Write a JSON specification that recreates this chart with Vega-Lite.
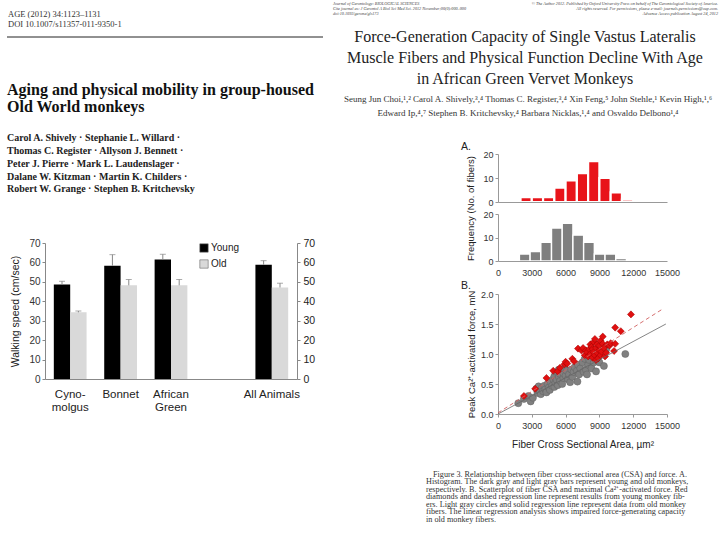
{
  "$schema": "https://vega.github.io/schema/vega-lite/v6.json",
  "background": "white",
  "padding": 0,
  "autosize": {"type": "pad"},
  "bounds": "full",
  "spacing": 0,
  "config": {
    "view": {"stroke": null},
    "axis": {"grid": false, "labelFont": "Liberation Sans", "titleFont": "Liberation Sans", "labelColor": "#333", "titleColor": "#222", "titleFontWeight": "normal", "domainColor": "#999", "tickColor": "#999", "tickSize": 3, "labelFlush": false, "labelOverlap": false, "labelBound": false}
  },
  "hconcat": [
    {
      "spacing": 0,
      "bounds": "flush",
      "vconcat": [
        {
          "width": 325, "height": 37,
          "layer": [
            {
              "data": {"values": [{"i": 0, "t": "AGE (2012) 34:1123–1131"}, {"i": 1, "t": "DOI 10.1007/s11357-011-9350-1"}]},
              "mark": {"type": "text", "align": "left", "baseline": "middle", "font": "Liberation Serif", "fontSize": 8.5, "color": "#333"},
              "encoding": {"x": {"value": 8}, "y": {"field": "i", "type": "quantitative", "scale": {"domain": [-1.4, 2.3], "reverse": true, "nice": false}, "axis": null}, "text": {"field": "t"}}
            },
            {
              "data": {"values": [{"i": 2.3}]},
              "mark": {"type": "rule", "color": "#222", "strokeWidth": 1},
              "encoding": {"x": {"value": 7}, "x2": {"value": 323}, "y": {"field": "i", "type": "quantitative"}}
            }
          ]
        },
        {
          "width": 325, "height": 88,
          "data": {"values": [{"i": 0, "t": "Aging and physical mobility in group-housed"}, {"i": 1, "t": "Old World monkeys"}]},
          "mark": {"type": "text", "align": "left", "baseline": "middle", "font": "Liberation Serif", "fontWeight": "bold", "fontSize": 16, "color": "#111"},
          "encoding": {"x": {"value": 7}, "y": {"field": "i", "type": "quantitative", "scale": {"domain": [-3.118, 2.059], "reverse": true, "nice": false}, "axis": null}, "text": {"field": "t"}}
        },
        {
          "width": 325, "height": 118,
          "data": {"values": [
            {"i": 0, "t": "Carol A. Shively · Stephanie L. Willard ·"},
            {"i": 1, "t": "Thomas C. Register · Allyson J. Bennett ·"},
            {"i": 2, "t": "Peter J. Pierre · Mark L. Laudenslager ·"},
            {"i": 3, "t": "Dalane W. Kitzman · Martin K. Childers ·"},
            {"i": 4, "t": "Robert W. Grange · Stephen B. Kritchevsky"}
          ]},
          "mark": {"type": "text", "align": "left", "baseline": "middle", "font": "Liberation Serif", "fontWeight": "bold", "fontSize": 10, "color": "#222"},
          "encoding": {"x": {"value": 7}, "y": {"field": "i", "type": "quantitative", "scale": {"domain": [-1.043, 8.212], "reverse": true, "nice": false}, "axis": null}, "text": {"field": "t"}}
        },
        {
          "spacing": 0,
          "bounds": "flush",
          "hconcat": [
            {"width": 45, "height": 10, "data": {"values": []}, "mark": "text"},
            {
              "width": 252, "height": 136,
              "data": {"values": [
                {"group": "Cyno-molgus", "age": "Young", "value": 48.6, "upper": 50.3},
                {"group": "Cyno-molgus", "age": "Old", "value": 34.3, "upper": 35.0},
                {"group": "Bonnet", "age": "Young", "value": 58.3, "upper": 64.0},
                {"group": "Bonnet", "age": "Old", "value": 48.2, "upper": 51.2},
                {"group": "African Green", "age": "Young", "value": 61.5, "upper": 64.2},
                {"group": "African Green", "age": "Old", "value": 48.2, "upper": 51.2},
                {"group": "All Animals", "age": "Young", "value": 58.8, "upper": 60.9},
                {"group": "All Animals", "age": "Old", "value": 47.1, "upper": 49.3}
              ]},
              "encoding": {
                "x": {"field": "group", "type": "nominal", "scale": {"domain": ["Cyno-molgus", "Bonnet", "African Green", " ", "All Animals"], "paddingInner": 0.35, "paddingOuter": 0.175},
                  "axis": {"title": null, "ticks": false, "labelAngle": 0, "labelFontSize": 11.5, "labelColor": "#222", "labelPadding": 9, "labelLineHeight": 13, "domainColor": "#888",
                    "labelExpr": "datum.value == 'Cyno-molgus' ? ['Cyno-', 'molgus'] : datum.value == 'African Green' ? ['African', 'Green'] : datum.value"}},
                "xOffset": {"field": "age", "type": "nominal", "scale": {"domain": ["Young", "Old"]}}
              },
              "layer": [
                {
                  "mark": {"type": "bar"},
                  "encoding": {
                    "y": {"field": "value", "type": "quantitative", "scale": {"domain": [0, 70], "nice": false},
                      "axis": {"orient": "left", "values": [0, 10, 20, 30, 40, 50, 60, 70], "tickCount": 20, "title": "Walking speed (cm/sec)", "titleFontSize": 10.5, "titlePadding": 8, "labelFontSize": 10, "labelColor": "#333", "domainColor": "#888", "tickColor": "#888", "tickSize": 3, "labelPadding": 2, "labelOverlap": false}},
                    "color": {"field": "age", "type": "nominal", "scale": {"domain": ["Young", "Old"], "range": ["#000000", "#d9d9d9"]},
                      "legend": {"title": null, "orient": "none", "legendX": 199, "legendY": 243, "padding": 0, "symbolType": "square", "symbolSize": 70, "labelFontSize": 10, "labelFont": "Liberation Sans", "labelColor": "#222", "symbolStrokeColor": "#666", "symbolStrokeWidth": 0.6, "rowPadding": 4, "labelOffset": 2}}
                  }
                },
                {
                  "mark": {"type": "rule", "color": "#888"},
                  "encoding": {"y": {"field": "value", "type": "quantitative", "axis": null}, "y2": {"field": "upper"}}
                },
                {
                  "mark": {"type": "tick", "color": "#888", "thickness": 1, "size": 6},
                  "encoding": {"y": {"field": "upper", "type": "quantitative", "axis": null}}
                },
                {
                  "mark": {"type": "point", "opacity": 0},
                  "encoding": {"y": {"field": "value", "type": "quantitative", "axis": {"orient": "right", "values": [0, 10, 20, 30, 40, 50, 60, 70], "tickCount": 20, "title": null, "labelFontSize": 10.5, "labelColor": "#222", "domainColor": "#888", "tickColor": "#888", "tickSize": 3, "labelPadding": 3, "labelOverlap": false}}}
                }
              ],
              "resolve": {"axis": {"y": "independent"}}
            }
          ]
        }
      ]
    },
    {
      "spacing": 0,
      "bounds": "flush",
      "vconcat": [
        {
          "width": 395, "height": 20,
          "layer": [
            {
              "data": {"values": [
                {"i": 0, "t": "Journal of Gerontology: BIOLOGICAL SCIENCES"},
                {"i": 1, "t": "Cite journal as: J Gerontol A Biol Sci Med Sci. 2012 November;00(0):000–000"},
                {"i": 2, "t": "doi:10.1093/gerona/gls173"}
              ]},
              "mark": {"type": "text", "align": "left", "baseline": "middle", "font": "Liberation Serif", "fontStyle": "italic", "fontSize": 4.2, "color": "#444"},
              "encoding": {"x": {"value": 8}, "y": {"field": "i", "type": "quantitative", "scale": {"domain": [-0.86, 3.14], "reverse": true, "nice": false}, "axis": null}, "text": {"field": "t"}}
            },
            {
              "data": {"values": [
                {"i": 0, "t": "© The Author 2012. Published by Oxford University Press on behalf of The Gerontological Society of America."},
                {"i": 1, "t": "All rights reserved. For permissions, please e-mail: journals.permissions@oup.com."},
                {"i": 2, "t": "Advance Access publication August 24, 2012"}
              ]},
              "mark": {"type": "text", "align": "right", "baseline": "middle", "font": "Liberation Serif", "fontStyle": "italic", "fontSize": 4.2, "color": "#444"},
              "encoding": {"x": {"value": 393}, "y": {"field": "i", "type": "quantitative"}, "text": {"field": "t"}}
            }
          ]
        },
        {
          "width": 395, "height": 70,
          "data": {"values": [
            {"i": 0, "t": "Force-Generation Capacity of Single Vastus Lateralis"},
            {"i": 1, "t": "Muscle Fibers and Physical Function Decline With Age"},
            {"i": 2, "t": "in African Green Vervet Monkeys"}
          ]},
          "mark": {"type": "text", "align": "center", "baseline": "middle", "font": "Liberation Serif", "fontSize": 16, "color": "#222"},
          "encoding": {"x": {"value": 200}, "y": {"field": "i", "type": "quantitative", "scale": {"domain": [-0.799, 2.55], "reverse": true, "nice": false}, "axis": null}, "text": {"field": "t"}}
        },
        {
          "width": 395, "height": 64,
          "data": {"values": [
            {"i": 0, "t": "Seung Jun Choi,¹,² Carol A. Shively,³,⁴ Thomas C. Register,³,⁴ Xin Feng,⁵ John Stehle,¹ Kevin High,¹,⁶"},
            {"i": 1, "t": "Edward Ip,⁴,⁷ Stephen B. Kritchevsky,⁴ Barbara Nicklas,¹,⁴ and Osvaldo Delbono¹,⁴"}
          ]},
          "mark": {"type": "text", "align": "center", "baseline": "middle", "font": "Liberation Serif", "fontSize": 9, "color": "#333"},
          "encoding": {"x": {"value": 203}, "y": {"field": "i", "type": "quantitative", "scale": {"domain": [-0.694, 4.082], "reverse": true, "nice": false}, "axis": null}, "text": {"field": "t"}}
        },
        {
          "spacing": 0,
          "bounds": "flush",
          "hconcat": [
            {"width": 173, "height": 10, "data": {"values": []}, "mark": "text"},
            {
              "spacing": 0,
              "bounds": "flush",
              "vconcat": [
                {
                  "width": 169, "height": 48,
                  "title": {"text": "A.", "anchor": "start", "frame": "group", "dx": -37, "offset": -2.5, "fontSize": 10.5, "fontWeight": "normal", "font": "Liberation Sans", "color": "#222"},
                  "data": {"values": [
                    {"b0": 2000, "b1": 3000, "n": 2}, {"b0": 3000, "b1": 4000, "n": 2}, {"b0": 4000, "b1": 5000, "n": 2},
                    {"b0": 5000, "b1": 6000, "n": 6}, {"b0": 6000, "b1": 7000, "n": 9}, {"b0": 7000, "b1": 8000, "n": 12},
                    {"b0": 8000, "b1": 9000, "n": 17}, {"b0": 9000, "b1": 10000, "n": 10}, {"b0": 10000, "b1": 11000, "n": 4},
                    {"b0": 11000, "b1": 12000, "n": 1}
                  ]},
                  "mark": {"type": "bar", "color": "#e8141a", "stroke": "white", "strokeWidth": 2.2},
                  "encoding": {
                    "x": {"field": "b0", "type": "quantitative", "scale": {"domain": [0, 15000], "nice": false, "zero": false}, "axis": {"labels": false, "ticks": false, "title": null, "zindex": 1, "values": [0, 3000, 6000, 9000, 12000, 15000], "tickCount": 20}},
                    "x2": {"field": "b1"},
                    "y": {"field": "n", "type": "quantitative", "scale": {"domain": [0, 20], "nice": false}, "axis": {"values": [0, 10, 20], "tickCount": 20, "title": null, "labelFontSize": 9, "labelOverlap": false}},
                    "y2": {"datum": 0}
                  }
                },
                {"width": 1, "height": 12, "data": {"values": []}, "mark": "text"},
                {
                  "width": 169, "height": 47,
                  "data": {"values": [
                    {"b0": 1900, "b1": 2850, "n": 3}, {"b0": 2850, "b1": 3800, "n": 4}, {"b0": 3800, "b1": 4750, "n": 8},
                    {"b0": 4750, "b1": 5700, "n": 14}, {"b0": 5700, "b1": 6650, "n": 16}, {"b0": 6650, "b1": 7600, "n": 11},
                    {"b0": 7600, "b1": 8550, "n": 8}, {"b0": 8550, "b1": 9500, "n": 3}, {"b0": 9500, "b1": 10450, "n": 3},
                    {"b0": 10450, "b1": 11400, "n": 1}
                  ]},
                  "mark": {"type": "bar", "color": "#7f7f7f", "stroke": "white", "strokeWidth": 1.4},
                  "encoding": {
                    "x": {"field": "b0", "type": "quantitative", "scale": {"domain": [0, 15000], "nice": false, "zero": false}, "axis": {"title": null, "zindex": 1, "values": [0, 3000, 6000, 9000, 12000, 15000], "tickCount": 20, "format": "d", "labelFontSize": 9, "labelPadding": 7, "ticks": false, "labelOverlap": false, "labelFlush": false, "labelBound": false}},
                    "x2": {"field": "b1"},
                    "y": {"field": "n", "type": "quantitative", "scale": {"domain": [0, 20], "nice": false}, "axis": {"values": [0, 10, 20], "tickCount": 20, "title": "Frequency (No. of fibers)", "titleFontSize": 9.5, "titleX": -28, "titleY": -6, "titleAlign": "center", "titleBaseline": "middle", "labelFontSize": 9, "labelOverlap": false}},
                    "y2": {"datum": 0}
                  }
                },
                {"width": 1, "height": 33, "data": {"values": []}, "mark": "text"},
                {
                  "width": 169, "height": 120,
                  "title": {"text": "B.", "anchor": "start", "frame": "group", "dx": -37, "offset": -1, "fontSize": 10.5, "fontWeight": "normal", "font": "Liberation Sans", "color": "#222"},
                  "encoding": {
                    "x": {"field": "csa", "type": "quantitative", "scale": {"domain": [0, 15000], "nice": false}, "axis": {"values": [0, 3000, 6000, 9000, 12000, 15000], "tickCount": 20, "format": "d", "title": "Fiber Cross Sectional Area, µm²", "titleFontSize": 10, "titlePadding": 9, "labelFontSize": 9, "labelPadding": 4, "labelOverlap": false, "labelFlush": false, "labelBound": false}},
                    "y": {"field": "force", "type": "quantitative", "scale": {"domain": [0, 2], "nice": false}, "axis": {"values": [0, 0.5, 1, 1.5, 2], "tickCount": 20, "format": ".1f", "title": "Peak Ca²⁺-activated force, mN", "titleFontSize": 9.5, "titlePadding": 4, "labelFontSize": 9, "labelOverlap": false, "labelBound": false}}
                  },
                  "layer": [
                    {
                      "data": {"values": [
                        {"csa": 1800, "force": 0.18}, {"csa": 2300, "force": 0.25}, {"csa": 2700, "force": 0.30}, {"csa": 2900, "force": 0.21},
                        {"csa": 3100, "force": 0.27}, {"csa": 3400, "force": 0.42}, {"csa": 3500, "force": 0.35}, {"csa": 3600, "force": 0.46},
                        {"csa": 3700, "force": 0.39}, {"csa": 3800, "force": 0.33}, {"csa": 3900, "force": 0.44}, {"csa": 4000, "force": 0.38},
                        {"csa": 4100, "force": 0.47}, {"csa": 4200, "force": 0.41}, {"csa": 4300, "force": 0.36}, {"csa": 4400, "force": 0.50},
                        {"csa": 4500, "force": 0.44}, {"csa": 4600, "force": 0.40}, {"csa": 4700, "force": 0.53}, {"csa": 4800, "force": 0.47},
                        {"csa": 4900, "force": 0.58}, {"csa": 5000, "force": 0.45}, {"csa": 5000, "force": 0.63}, {"csa": 5100, "force": 0.52},
                        {"csa": 5200, "force": 0.70}, {"csa": 5200, "force": 0.57}, {"csa": 5300, "force": 0.48}, {"csa": 5400, "force": 0.74},
                        {"csa": 5400, "force": 0.62}, {"csa": 5500, "force": 0.67}, {"csa": 5500, "force": 0.55}, {"csa": 5600, "force": 0.72},
                        {"csa": 5700, "force": 0.50}, {"csa": 5800, "force": 0.60}, {"csa": 5800, "force": 0.68}, {"csa": 5900, "force": 0.76},
                        {"csa": 6000, "force": 0.64}, {"csa": 6100, "force": 0.72}, {"csa": 6200, "force": 0.58}, {"csa": 6300, "force": 0.66},
                        {"csa": 6400, "force": 0.53}, {"csa": 6500, "force": 0.74}, {"csa": 6600, "force": 0.62}, {"csa": 6700, "force": 0.70},
                        {"csa": 6800, "force": 0.78}, {"csa": 7000, "force": 0.72}, {"csa": 7050, "force": 0.54}, {"csa": 7100, "force": 0.82},
                        {"csa": 7200, "force": 0.66}, {"csa": 7300, "force": 0.76}, {"csa": 7500, "force": 0.86}, {"csa": 7600, "force": 0.70},
                        {"csa": 7700, "force": 0.92}, {"csa": 7800, "force": 0.74}, {"csa": 7900, "force": 0.66}, {"csa": 8000, "force": 0.82},
                        {"csa": 8100, "force": 0.90}, {"csa": 8300, "force": 0.76}, {"csa": 8500, "force": 0.86}, {"csa": 8700, "force": 0.71},
                        {"csa": 8800, "force": 0.94}, {"csa": 9000, "force": 0.86}, {"csa": 9200, "force": 1.06}, {"csa": 9400, "force": 0.80},
                        {"csa": 9600, "force": 1.08}, {"csa": 11300, "force": 1.00}
                      ]},
                      "mark": {"type": "point", "shape": "circle", "filled": true, "size": 50, "color": "#808080", "stroke": "#606060", "strokeWidth": 0.5, "opacity": 1}
                    },
                    {
                      "data": {"values": [
                        {"csa": 2300, "force": 0.30}, {"csa": 3300, "force": 0.42}, {"csa": 4300, "force": 0.60}, {"csa": 4900, "force": 0.72},
                        {"csa": 5300, "force": 0.71}, {"csa": 5500, "force": 0.77}, {"csa": 5900, "force": 0.83}, {"csa": 6000, "force": 0.87},
                        {"csa": 6150, "force": 0.84}, {"csa": 6600, "force": 0.92}, {"csa": 6750, "force": 0.88}, {"csa": 7100, "force": 1.09},
                        {"csa": 7400, "force": 1.06}, {"csa": 7550, "force": 1.10}, {"csa": 7700, "force": 0.98}, {"csa": 7800, "force": 1.06},
                        {"csa": 7900, "force": 1.03}, {"csa": 8000, "force": 0.96}, {"csa": 8100, "force": 1.08}, {"csa": 8200, "force": 1.00},
                        {"csa": 8200, "force": 1.16}, {"csa": 8300, "force": 1.12}, {"csa": 8400, "force": 0.94}, {"csa": 8400, "force": 1.08},
                        {"csa": 8500, "force": 1.20}, {"csa": 8500, "force": 1.03}, {"csa": 8600, "force": 1.25}, {"csa": 8600, "force": 0.98},
                        {"csa": 8700, "force": 1.10}, {"csa": 8700, "force": 0.90}, {"csa": 8800, "force": 1.02}, {"csa": 8800, "force": 1.16},
                        {"csa": 8900, "force": 0.93}, {"csa": 9000, "force": 1.06}, {"csa": 9000, "force": 1.14}, {"csa": 9100, "force": 0.98},
                        {"csa": 9100, "force": 1.22}, {"csa": 9200, "force": 1.04}, {"csa": 9300, "force": 1.29}, {"csa": 9300, "force": 1.17},
                        {"csa": 9400, "force": 1.10}, {"csa": 9500, "force": 0.96}, {"csa": 9600, "force": 1.02}, {"csa": 9700, "force": 1.16},
                        {"csa": 9900, "force": 1.14}, {"csa": 10000, "force": 1.18}, {"csa": 10300, "force": 1.05}, {"csa": 10400, "force": 1.17},
                        {"csa": 10400, "force": 1.44}, {"csa": 10900, "force": 1.38}, {"csa": 11800, "force": 1.66}
                      ]},
                      "mark": {"type": "point", "shape": "diamond", "filled": true, "size": 50, "color": "#e01010", "stroke": "#a00000", "strokeWidth": 0.5, "opacity": 1}
                    },
                    {
                      "data": {"values": [{"csa": 0, "force": 0.02}, {"csa": 14700, "force": 1.76}]},
                      "mark": {"type": "line", "color": "#d06060", "strokeDash": [4, 3], "strokeWidth": 0.9}
                    },
                    {
                      "data": {"values": [{"csa": 0, "force": 0}, {"csa": 14900, "force": 1.5}]},
                      "mark": {"type": "line", "color": "#666666", "strokeWidth": 0.8}
                    }
                  ]
                },
                {
                  "width": 169, "height": 126,
                  "layer": [
                    {
                      "data": {"values": [{"i": 0, "t": "Figure 3.  Relationship between fiber cross-sectional area (CSA) and force. A."}]},
                      "mark": {"type": "text", "align": "left", "baseline": "middle", "font": "Liberation Serif", "fontSize": 8.2, "color": "#333"},
                      "encoding": {"x": {"value": -65}, "y": {"field": "i", "type": "quantitative", "scale": {"domain": [-8.133, 8.667], "reverse": true, "nice": false}, "axis": null}, "text": {"field": "t"}}
                    },
                    {
                      "data": {"values": [
                        {"i": 1, "t": "Histogram. The dark gray and light gray bars represent young and old monkeys,"},
                        {"i": 2, "t": "respectively. B. Scatterplot of fiber CSA and maximal Ca²⁺-activated force. Red"},
                        {"i": 3, "t": "diamonds and dashed regression line represent results from young monkey fib-"},
                        {"i": 4, "t": "ers. Light gray circles and solid regression line represent data from old monkey"},
                        {"i": 5, "t": "fibers. The linear regression analysis shows impaired force-generating capacity"},
                        {"i": 6, "t": "in old monkey fibers."}
                      ]},
                      "mark": {"type": "text", "align": "left", "baseline": "middle", "font": "Liberation Serif", "fontSize": 8.2, "color": "#333"},
                      "encoding": {"x": {"value": -72}, "y": {"field": "i", "type": "quantitative"}, "text": {"field": "t"}}
                    }
                  ]
                }
              ]
            }
          ]
        }
      ]
    }
  ]
}
